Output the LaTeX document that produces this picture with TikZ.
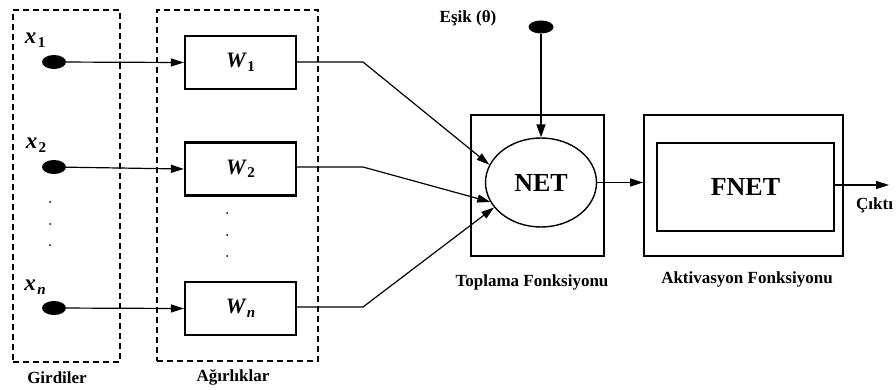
\documentclass[tikz,border=0pt]{standalone}
\usepackage{fontspec}
\setmainfont{Liberation Serif}
\usetikzlibrary{arrows.meta,shapes.geometric}

\newcommand{\vsub}[2]{{\bfseries\itshape #1}\kern1.5pt\raisebox{-0.35ex}{\fontsize{15}{15}\selectfont\bfseries #2}}

\begin{document}
\begin{tikzpicture}[x=1pt,y=-1pt,
  group/.style={draw, dash pattern=on 6pt off 4pt, line width=1.6pt, inner sep=0pt},
  wbox/.style={draw, line width=2.2pt, minimum width=111pt, minimum height=53pt, inner sep=0pt,
    font=\fontsize{22}{24}\selectfont},
  blob/.style={ellipse, fill=black, minimum width=24pt, minimum height=14pt, inner sep=0pt},
  var/.style={font=\fontsize{23}{24}\selectfont, inner sep=0pt},
  conn/.style={line width=1.2pt, -{Triangle[length=13pt,width=8pt]}},
  lbl/.style={font=\fontsize{17}{19}\selectfont\bfseries, inner sep=0pt},
  frame/.style={draw, line width=1.7pt, inner sep=0pt},
  tiny/.style={circle, fill=black, minimum size=2pt, inner sep=0pt}]

\useasboundingbox (0,0) rectangle (896,390);

% groups
\node[group, minimum width=107pt, minimum height=352pt] (girdiler) at (66.5,186) {};
\node[group, minimum width=161pt, minimum height=351pt] (agirlik) at (237.5,185.5) {};
\node[lbl] (girdilerL) at (57,378) {Girdiler};
\node[lbl] (agirlikL) at (233,377) {Ağırlıklar};

% inputs
\node[blob] (x1) at (54,62) {};
\node[blob] (x2) at (54,167) {};
\node[blob] (xn) at (54,308) {};
\node[var] (x1L) at (35,40) {\vsub{x}{1}};
\node[var] (x2L) at (36,145) {\vsub{x}{2}};
\node[var] (xnL) at (35,287) {\vsub{x}{\itshape n}};
\foreach \yy [count=\i] in {202,224,245} \node[tiny] (dx\i) at (50,\yy) {};

% weights
\node[wbox] (w1) at (240.5,62.5) {\vsub{W}{1}};
\node[wbox] (w2) at (240.5,169) {\vsub{W}{2}};
\node[wbox] (wn) at (240.5,308.5) {\vsub{W}{\itshape n}};
\foreach \yy [count=\i] in {213,235,256} \node[tiny] (dw\i) at (227,\yy) {};

\draw[conn] (x1) -- (w1.west);
\draw[conn] (x2) -- (w2.west);
\draw[conn] (xn) -- (wn.west);

% summation
\node[frame, minimum width=133pt, minimum height=141pt] (sumbox) at (537.5,185.5) {};
\node[draw, line width=1.4pt, ellipse, minimum width=111pt, minimum height=89pt, inner sep=0pt,
  font=\fontsize{26}{28}\selectfont\bfseries] (net) at (541,182.5) {NET};
\node[lbl] (sumL) at (532,282) {Toplama Fonksiyonu};

\coordinate (b1) at (363,62);
\coordinate (b2) at (363,167);
\coordinate (bn) at (363,307);
\draw[conn] (w1.east |- b1) -- (b1) -- (net.161);
\draw[conn] (w2.east |- b2) -- (b2) -- (net.201);
\draw[conn] (wn.east |- bn) -- (bn) -- (net.208);

% threshold
\node[blob, minimum width=25pt, minimum height=13pt] (theta) at (541,27) {};
\node[lbl] (thetaL) at (468,18) {Eşik (θ)};
\draw[line width=1.8pt, -{Triangle[length=13pt,width=9pt]}] (theta) -- (net.north);

% activation
\node[frame, minimum width=199pt, minimum height=141pt] (actbox) at (743.5,185.5) {};
\node[frame, minimum width=177pt, minimum height=88pt,
  font=\fontsize{26}{28}\selectfont\bfseries] (fnet) at (745.5,187) {FNET};
\node[lbl] (actL) at (747,279) {Aktivasyon Fonksiyonu};

\draw[conn] (net.east) -- (actbox.west |- net.east);
\coordinate (out) at (889,185);
\draw[conn] (fnet.east |- out) -- (out);
\node[lbl, anchor=west] (outL) at (856,205) {Çıktı};

\end{tikzpicture}
\end{document}
